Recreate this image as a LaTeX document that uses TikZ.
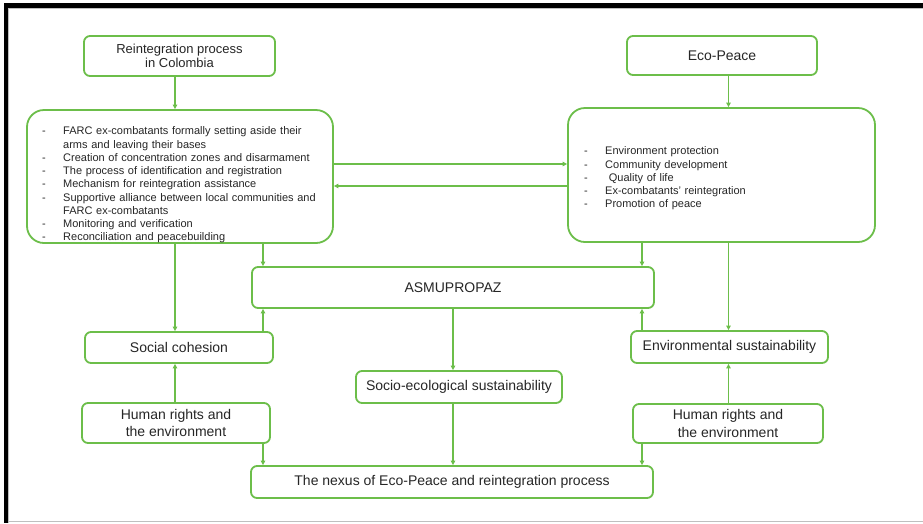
\documentclass[tikz,border=0pt]{standalone}
\usepackage{fontspec}
\setmainfont{Liberation Sans}
\usetikzlibrary{arrows.meta}

\definecolor{grn}{RGB}{108,190,74}
\definecolor{txt}{RGB}{38,38,38}

% one dash-led entry of a bullet list, wrapped lines hang under the text
\newcommand\lstitem[1]{\par\noindent\hangindent=21pt\hangafter=1\makebox[21pt][l]{-}#1}

\begin{document}
\begin{tikzpicture}[x=1pt,y=-1pt,
  box/.style={draw=grn, line width=1.8pt, rounded corners=6pt, fill=white,
    text=txt, align=center, inner sep=0pt,
    font=\fontsize{14}{17.5}\selectfont},
  bigbox/.style={box, rounded corners=17pt},
  listtext/.style={text=txt, inner sep=0pt, anchor=north west, align=left,
    font=\fontsize{11}{13.25}\selectfont},
  link/.style={draw=grn, line width=1.2pt, -{Triangle[length=4.5pt,width=4.5pt]}},
]
\useasboundingbox (0,0) rectangle (923,523);

% page frame
\fill[black] (4,3) rectangle (923,8);
\fill[black] (4,3) rectangle (8,523);
\draw[black!25, line width=0.8pt] (8,8.6) -- (923,8.6);
\draw[black!25, line width=0.8pt] (8.6,8) -- (8.6,523);
\draw[black!25, line width=1pt] (8,521.5) -- (923,521.5);

% boxes
\node[box, minimum width=191, minimum height=40,
  font=\fontsize{13}{14}\selectfont] (A) at (179.5,56)
  {Reintegration process\\in Colombia};
\node[box, minimum width=190, minimum height=39] (B) at (722,55.5) {Eco-Peace};
\node[bigbox, minimum width=306, minimum height=133] (C) at (180,176.5) {};
\node[bigbox, minimum width=307, minimum height=134] (D) at (721.5,175) {};
\node[box, minimum width=402, minimum height=41] (E) at (453,287.5) {ASMUPROPAZ};
\node[box, minimum width=188, minimum height=31] (F) at (179,347.5) {Social cohesion};
\node[box, minimum width=188, minimum height=40] (G) at (176,423)
  {Human rights and\\the environment};
\node[box, minimum width=197, minimum height=32] (H) at (729.5,347)
  {Environmental sustainability};
\node[box, minimum width=190, minimum height=39] (I) at (728,423.5)
  {Human rights and\\the environment};
\node[box, minimum width=206, minimum height=32] (J) at (459,387)
  {Socio-ecological sustainability};
\node[box, minimum width=402, minimum height=32] (K) at (452,482)
  {The nexus of Eco-Peace and reintegration process};

% list contents of the two large boxes
\node[listtext, text width=285] (Clist) at (42,121.5) {%
  \lstitem{\rule{0pt}{9pt}FARC ex-combatants formally setting aside their\newline arms and leaving their bases}
  \lstitem{Creation of concentration zones and disarmament}
  \lstitem{The process of identification and registration}
  \lstitem{Mechanism for reintegration assistance}
  \lstitem{Supportive alliance between local communities and\newline FARC ex-combatants}
  \lstitem{Monitoring and verification}
  \lstitem{Reconciliation and peacebuilding}};
\node[listtext, text width=280] (Dlist) at (584,141.5) {%
  \lstitem{\rule{0pt}{9pt}Environment protection}
  \lstitem{Community development}
  \lstitem{\ Quality of life}
  \lstitem{Ex-combatants' reintegration}
  \lstitem{Promotion of peace}};

% connector columns and rows
\coordinate (c1) at (175,0);
\coordinate (c2) at (263,0);
\coordinate (cm) at (453,0);
\coordinate (c3) at (642,0);
\coordinate (c4) at (728.5,0);
\coordinate (r1) at (0,164);
\coordinate (r2) at (0,186);

% connectors
\draw[link] (A.south -| c1) -- (C.north -| c1);
\draw[link] (B.south -| c4) -- (D.north -| c4);
\draw[link] (C.east |- r1) -- (D.west |- r1);
\draw[link] (D.west |- r2) -- (C.east |- r2);
\draw[link] (C.south -| c1) -- (F.north -| c1);
\draw[link] (C.south -| c2) -- (E.north -| c2);
\draw[link] (D.south -| c3) -- (E.north -| c3);
\draw[link] (D.south -| c4) -- (H.north -| c4);
\draw[link] (F.north -| c2) -- (E.south -| c2);
\draw[link] (H.north -| c3) -- (E.south -| c3);
\draw[link] (E.south -| cm) -- (J.north -| cm);
\draw[link] (G.north -| c1) -- (F.south -| c1);
\draw[link] (I.north -| c4) -- (H.south -| c4);
\draw[link] (G.south -| c2) -- (K.north -| c2);
\draw[link] (I.south -| c3) -- (K.north -| c3);
\draw[link] (J.south -| cm) -- (K.north -| cm);
\end{tikzpicture}
\end{document}
